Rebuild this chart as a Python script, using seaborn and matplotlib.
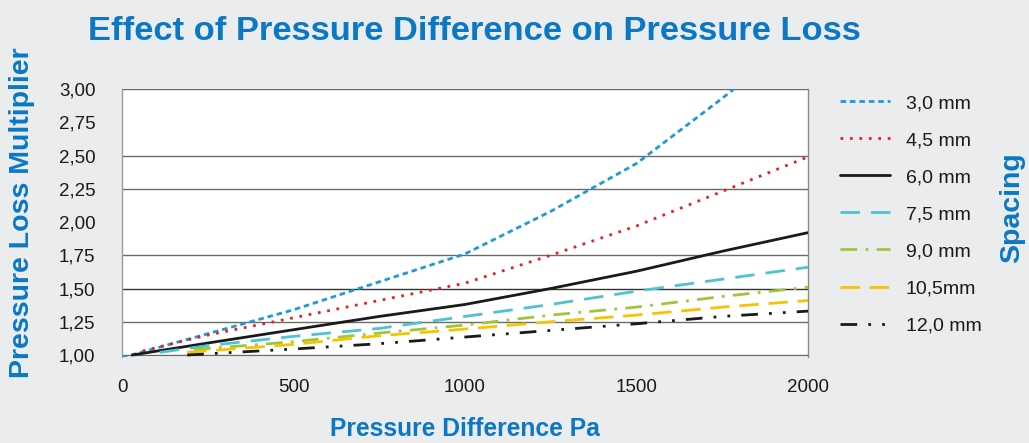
import numpy as np
import pandas as pd
import matplotlib as mpl
mpl.use("Agg")
import matplotlib.pyplot as plt
import seaborn as sns

# data
spacing = ["3,0 mm", "4,5 mm", "6,0 mm", "7,5 mm", "9,0 mm", "10,5mm", "12,0 mm"]

x_30 = [0, 250, 500, 750, 1000, 1250, 1500, 1750, 2000]
y_30 = [0.98, 1.16, 1.34, 1.55, 1.76, 2.08, 2.44, 2.93, 3.45]

x_45 = [60, 250, 500, 750, 1000, 1250, 1500, 1750, 2000]
y_45 = [1.03, 1.15, 1.28, 1.41, 1.54, 1.75, 1.97, 2.23, 2.49]

x_60 = [30, 250, 500, 750, 1000, 1250, 1500, 1750, 2000]
y_60 = [1.00, 1.09, 1.19, 1.29, 1.38, 1.50, 1.63, 1.78, 1.92]

x_75 = [110, 250, 500, 750, 1000, 1250, 1500, 1750, 2000]
y_75 = [1.02, 1.07, 1.14, 1.20, 1.29, 1.38, 1.48, 1.57, 1.66]

x_90 = [210, 500, 750, 1000, 1250, 1500, 1750, 2000]
y_90 = [1.04, 1.10, 1.165, 1.225, 1.30, 1.36, 1.44, 1.51]

x_105 = [190, 500, 750, 1000, 1250, 1500, 1750, 2000]
y_105 = [1.02, 1.08, 1.145, 1.195, 1.25, 1.30, 1.36, 1.41]

x_120 = [190, 500, 750, 1000, 1250, 1500, 1750, 2000]
y_120 = [1.00, 1.045, 1.085, 1.135, 1.185, 1.235, 1.29, 1.33]

xs = [x_30, x_45, x_60, x_75, x_90, x_105, x_120]
ys = [y_30, y_45, y_60, y_75, y_90, y_105, y_120]

colors = ["#1d9ad9", "#e8202a", "#1a1a1a", "#4fc3cf", "#9dc63b", "#f7c300", "#1a1a1a"]
styles = [(0, (2, 1.4)), (0, (1, 2.4)), "-", (0, (7, 4)),
          (0, (6, 3, 1, 3)), (0, (7, 3.5)), (0, (6, 4, 1, 4, 1, 4))]

ytick_vals = [1.00, 1.25, 1.50, 1.75, 2.00, 2.25, 2.50, 2.75, 3.00]
grid_vals = [1.00, 1.25, 1.50, 1.75, 2.25, 2.50, 3.00]
xtick_vals = [0, 500, 1000, 1500, 2000]

blue = "#0a78c4"
bg = "#ebeced"

sns.set_style("white")
plt.rcParams["font.family"] = ["Liberation Sans", "DejaVu Sans"]

fig = plt.figure(figsize=(10.29, 4.43), dpi=100, facecolor=bg)
ax = fig.add_axes([122 / 1029, 1 - 357 / 443, 686 / 1029, 268 / 443])
ax.set_facecolor("white")

for g in grid_vals:
    ax.axhline(g, color="#333333" if g == 1.50 else "#6b6b6b", lw=1.0, zorder=1)

for i, lab in enumerate(spacing):
    df = pd.DataFrame({"x": xs[i], "y": ys[i]})
    sns.lineplot(data=df, x="x", y="y", ax=ax, color=colors[i], lw=2.0,
                 linestyle=styles[i], label=lab, zorder=3)

ax.set_xlim(0, 2000)
ax.set_ylim(0.985, 3.0)
ax.set_xlabel("")
ax.set_ylabel("")

ax.set_xticks(xtick_vals)
ax.set_xticklabels([str(v) for v in xtick_vals])
ax.set_yticks(ytick_vals)
ax.set_yticklabels([f"{v:.2f}".replace(".", ",") for v in ytick_vals])
ax.set_yticks(grid_vals, minor=True)
ax.tick_params(axis="y", which="major", length=0, pad=19, labelsize=13.5, labelcolor="#1a1a1a")
ax.tick_params(axis="y", which="minor", length=7, width=1, color="#6b6b6b", direction="out")
ax.tick_params(axis="x", which="major", length=6, width=1, color="#6b6b6b",
               direction="out", pad=10, labelsize=13.5, labelcolor="#1a1a1a")

for s in ["top", "bottom"]:
    ax.spines[s].set_visible(False)
ax.spines["left"].set_color("#9a9a9a")
ax.spines["right"].set_color("#8a8a8a")
ax.spines["left"].set_linewidth(1)
ax.spines["right"].set_linewidth(1)

leg = ax.legend(loc="upper left", bbox_to_anchor=((822 - 122) / 686, 1.045),
                frameon=False, fontsize=14, handlelength=2.6, handletextpad=0.8,
                labelspacing=1.0)
for t in leg.get_texts():
    t.set_color("#1a1a1a")

fig.text(88 / 1029, 1 - 40 / 443, "Effect of Pressure Difference on Pressure Loss",
         fontsize=24.8, fontweight="bold", color=blue, va="baseline", ha="left")
fig.text(22 / 1029, 1 - 213 / 443, "Pressure Loss Multiplier", rotation=90,
         fontsize=20.5, fontweight="bold", color=blue, va="center", ha="center")
fig.text(465 / 1029, 1 - 436 / 443, "Pressure Difference Pa",
         fontsize=17.7, fontweight="bold", color=blue, va="baseline", ha="center")
fig.text(1012 / 1029, 1 - 208 / 443, "Spacing", rotation=90,
         fontsize=20.5, fontweight="bold", color=blue, va="center", ha="center")

fig.savefig("out.png", dpi=100, facecolor=bg)
